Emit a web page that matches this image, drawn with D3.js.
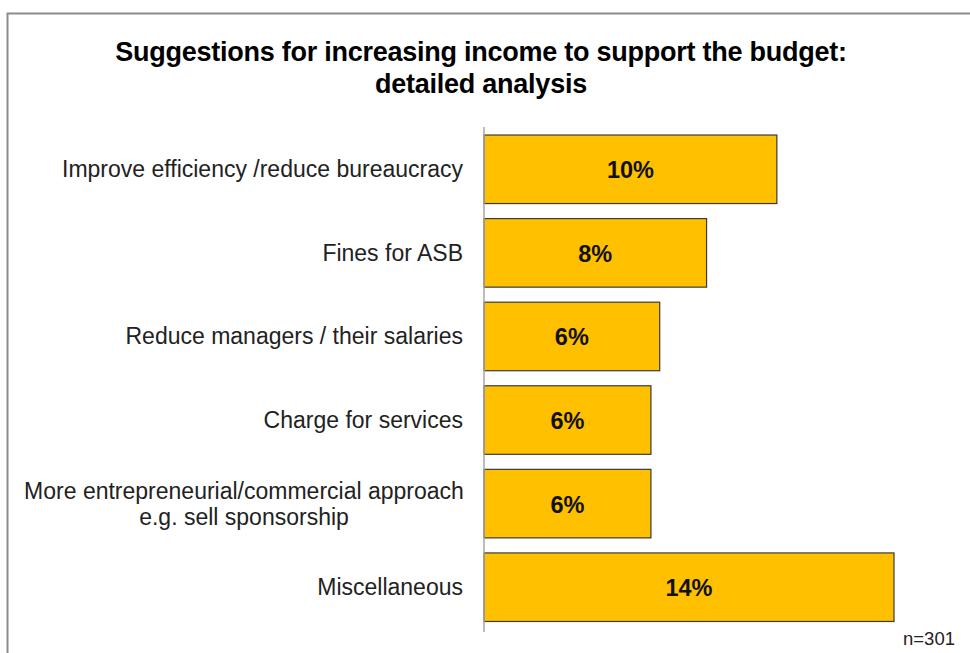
<!DOCTYPE html>
<html>
<head>
<meta charset="utf-8">
<script src="https://cdn.jsdelivr.net/npm/d3@7"></script>
<style>
  html, body { margin: 0; padding: 0; background: #fff; }
  svg { display: block; font-family: "Liberation Sans", Arial, sans-serif; }
</style>
</head>
<body>
<svg id="chart" width="970" height="653"></svg>
<script>
const categories = [
  ["Improve efficiency /reduce bureaucracy"],
  ["Fines for ASB"],
  ["Reduce managers / their salaries"],
  ["Charge for services"],
  ["More entrepreneurial/commercial approach", "e.g. sell sponsorship"],
  ["Miscellaneous"]
];
const values = [10.0, 7.6, 6.0, 5.7, 5.7, 14.0];
const valueLabels = ["10%", "8%", "6%", "6%", "6%", "14%"];
const titleLines = ["Suggestions for increasing income to support the budget:", "detailed analysis"];
const footnote = "n=301";

const svg = d3.select("#chart");
const W = 970, H = 653;

// outer frame (top and left visible)
svg.append("path")
  .attr("d", `M7.5,${H} V13.5 H${W}`)
  .attr("fill", "none").attr("stroke", "#8c8c8c").attr("stroke-width", 2);

// title
const title = svg.append("text")
  .attr("text-anchor", "middle")
  .attr("font-weight", "bold")
  .attr("font-size", 27)
  .attr("letter-spacing", -0.25)
  .attr("fill", "#000");
titleLines.forEach((t, i) => {
  title.append("tspan").attr("x", 481).attr("y", 61 + i * 32).text(t);
});

const x0 = 484;
const x = d3.scaleLinear().domain([0, 14]).range([x0, 894]);
const idx = d3.range(categories.length);
const y = d3.scaleBand().domain(idx).range([127.5, 629]).paddingInner(0.18).paddingOuter(0.09);

// bars
svg.append("g").selectAll("rect").data(idx).join("rect")
  .attr("x", x(0))
  .attr("y", i => y(i))
  .attr("width", i => x(values[i]) - x(0))
  .attr("height", y.bandwidth())
  .attr("fill", "#FFC000")
  .attr("stroke", "#3a3a3a")
  .attr("stroke-width", 1.2);

// axis line
const yAxis = d3.axisLeft(y).tickSize(0).tickFormat("");
const ag = svg.append("g").attr("transform", `translate(${x0},0)`).call(yAxis);
ag.select(".domain").attr("stroke", "#a6a6a6").attr("stroke-width", 1.5)
  .attr("d", "M0,127V632");

// category labels
svg.append("g").selectAll("text").data(idx).join("text")
  .attr("font-size", 23)
  .attr("fill", "#222")
  .each(function(i) {
    const lines = categories[i];
    const cy = y(i) + y.bandwidth() / 2;
    const sel = d3.select(this);
    const n = lines.length;
    lines.forEach((l, k) => {
      sel.append("tspan")
        .attr("x", n > 1 ? 244 : 463)
        .attr("text-anchor", n > 1 ? "middle" : "end")
        .attr("y", cy + 8 + (k - (n - 1) / 2) * 26)
        .text(l);
    });
  });

// value labels
svg.append("g").selectAll("text").data(idx).join("text")
  .attr("x", i => (x(0) + x(values[i])) / 2)
  .attr("y", i => y(i) + y.bandwidth() / 2 + 9)
  .attr("text-anchor", "middle")
  .attr("font-weight", "bold")
  .attr("font-size", 23.5)
  .attr("fill", "#111")
  .text(i => valueLabels[i]);

// footnote
svg.append("text")
  .attr("x", 955).attr("y", 645)
  .attr("text-anchor", "end")
  .attr("font-size", 18.5)
  .attr("fill", "#222")
  .text(footnote);
</script>
</body>
</html>
